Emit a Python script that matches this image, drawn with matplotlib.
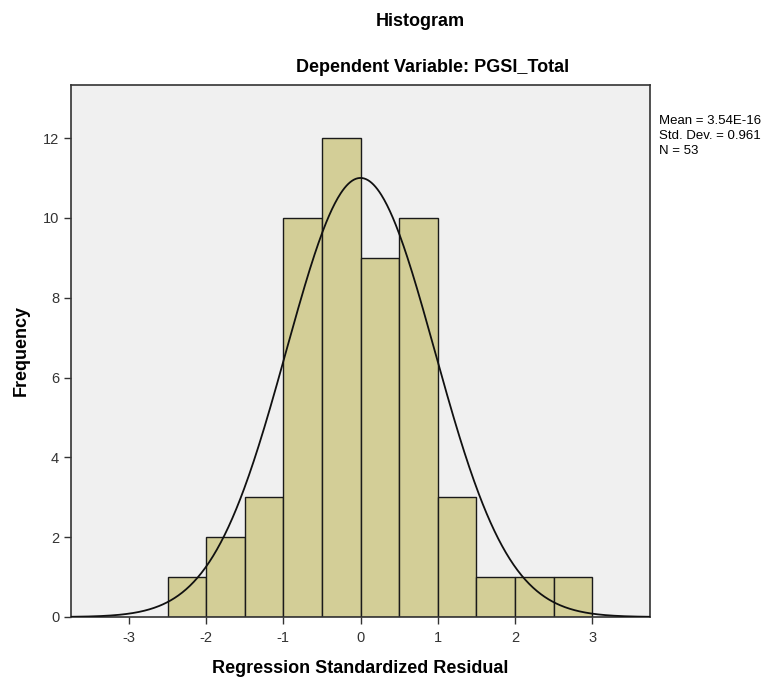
import numpy as np
import matplotlib
matplotlib.use("Agg")
import matplotlib.pyplot as plt

plt.rcParams['font.family'] = ['Liberation Sans', 'DejaVu Sans']
plt.rcParams['axes.unicode_minus'] = False

bin_edges = [-2.5, -2.0, -1.5, -1.0, -0.5, 0.0, 0.5, 1.0, 1.5, 2.0, 2.5, 3.0]
counts = [1, 2, 3, 10, 12, 9, 10, 3, 1, 1, 1]
mean = 3.54e-16
std = 0.961
n = 53
xticks = [-3, -2, -1, 0, 1, 2, 3]
yticks = [0, 2, 4, 6, 8, 10, 12]

fig = plt.figure(figsize=(7.79, 6.81), dpi=100)
ax = fig.add_axes([71/779, 1 - 617/681, (650 - 71)/779, (617 - 85)/681])
ax.set_facecolor('#F0F0F0')

widths = np.diff(bin_edges)
ax.bar(bin_edges[:-1], counts, width=widths, align='edge', color='#D3CE97',
       edgecolor='#1a1a1a', linewidth=1.0, zorder=2)

binw = widths[0]
xs = np.linspace(-3.75, 3.75, 600)
ys = n * binw * np.exp(-0.5 * ((xs - mean) / std) ** 2) / (std * np.sqrt(2 * np.pi))
ax.plot(xs, ys, color='#111111', linewidth=1.3, zorder=3)

ax.set_xlim(-3.75, 3.75)
ax.set_ylim(0, 13.33)
ax.set_xticks(xticks)
ax.set_yticks(yticks)
ax.set_xticklabels([str(t) for t in xticks])
ax.set_yticklabels([str(t) for t in yticks])
ax.tick_params(direction='out', length=5, width=1, colors='#333333', labelsize=10.5,
               labelcolor='#333333')
ax.tick_params(axis='x', pad=5)
for s in ax.spines.values():
    s.set_color('#333333')
    s.set_linewidth(1.2)

ax.set_xlabel('Regression Standardized Residual', fontsize=13, fontweight='bold', labelpad=11)
ax.set_ylabel('Frequency', fontsize=13, fontweight='bold')
ax.yaxis.set_label_coords(-(71 - 30) / (650 - 71), 0.5)

fig.text(420/779, 1 - 22/681, 'Histogram', ha='center', va='center', fontsize=13, fontweight='bold')
fig.text(433/779, 1 - 67/681, 'Dependent Variable: PGSI_Total', ha='center', va='center',
         fontsize=13, fontweight='bold')

fig.text(659/779, 1 - 115/681, f'Mean = 3.54E-16\nStd. Dev. = {std}\nN = {n}',
         ha='left', va='top', fontsize=9.5, linespacing=1.35)

fig.savefig('out.png', dpi=100)
